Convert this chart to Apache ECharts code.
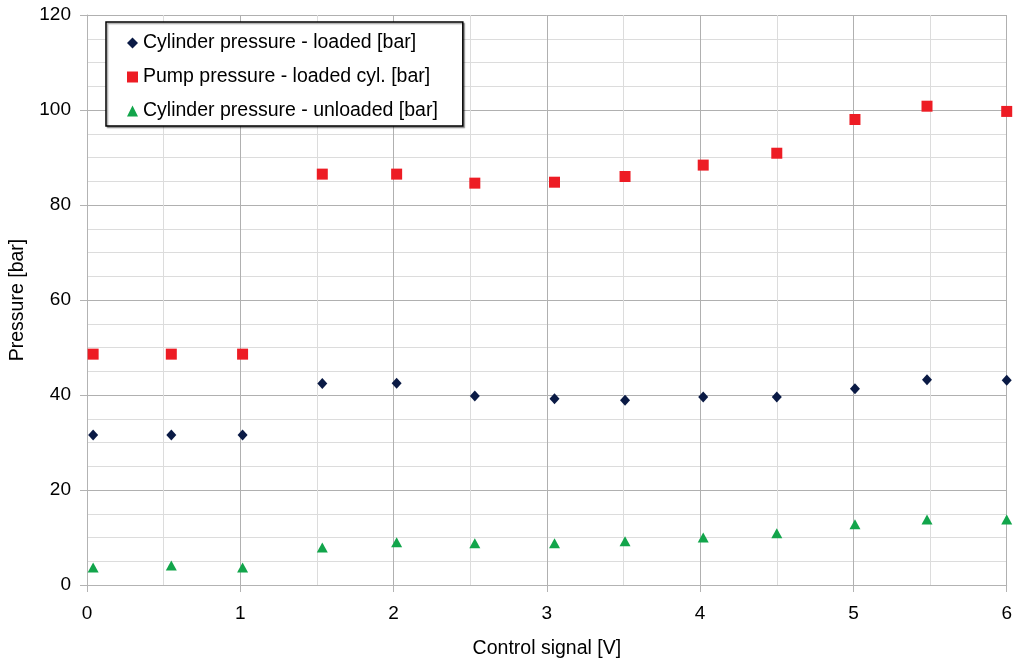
<!DOCTYPE html>
<html><head><meta charset="utf-8">
<script src="https://cdn.jsdelivr.net/npm/echarts@6/dist/echarts.min.js"></script>
<style>html,body{margin:0;padding:0;background:#fff}#c{width:1015px;height:664px}</style>
</head><body><div id="c"></div>
<script>
const controlSignal = [0.04, 0.55, 1.015, 1.535, 2.02, 2.53, 3.05, 3.51, 4.02, 4.50, 5.01, 5.48, 6.0];
const cylLoaded   = [31.6, 31.6, 31.6, 42.4, 42.5, 39.8, 39.2, 38.9, 39.6, 39.6, 41.3, 43.2, 43.1];
const pumpLoaded  = [48.6, 48.6, 48.6, 86.5, 86.5, 84.6, 84.8, 86.0, 88.4, 90.9, 98.0, 100.8, 99.7];
const cylUnloaded = [3.7, 4.1, 3.7, 7.9, 9.0, 8.8, 8.8, 9.2, 10.0, 10.9, 12.8, 13.8, 13.8];
const seriesNames = ['Cylinder pressure - loaded [bar]', 'Pump pressure - loaded cyl. [bar]', 'Cylinder pressure - unloaded [bar]'];
const pair = (ys) => controlSignal.map((x, i) => [x, ys[i]]);

const font = 'Liberation Sans, Arial, sans-serif';
const navy = '#0a1a45', red = '#ed1c24', green = '#12a54b';
const chart = echarts.init(document.getElementById('c'), null, {renderer: 'canvas'});
chart.setOption({
  animation: false,
  backgroundColor: '#fff',
  grid: {left: 86, right: 7, top: 15, bottom: 79, containLabel: false},
  legend: {
    orient: 'vertical', left: 106, top: 22,
    padding: [11, 25, 5, 21],
    itemGap: 14,
    itemWidth: 11, itemHeight: 11,
    backgroundColor: '#fff',
    borderColor: '#000', borderWidth: 1.5,
    shadowColor: 'rgba(0,0,0,0.35)', shadowOffsetX: 1.5, shadowOffsetY: 1.5, shadowBlur: 1,
    textStyle: {fontFamily: font, fontSize: 19.5, lineHeight: 20, color: '#000'},
    data: [
      {name: seriesNames[0], icon: 'diamond', itemStyle: {color: navy}},
      {name: seriesNames[1], icon: 'rect', itemStyle: {color: red}},
      {name: seriesNames[2], icon: 'triangle', itemStyle: {color: green}}
    ]
  },
  xAxis: {
    type: 'value', min: 0, max: 6, interval: 1,
    name: 'Control signal [V]', nameLocation: 'middle', nameGap: 54,
    nameTextStyle: {fontFamily: font, fontSize: 19.5, color: '#000'},
    axisLine: {show: true, lineStyle: {color: '#b3b3b3', width: 1}},
    axisTick: {show: true, length: 7, lineStyle: {color: '#b3b3b3'}},
    axisLabel: {fontFamily: font, fontSize: 19, color: '#000', margin: 19},
    splitLine: {show: true, lineStyle: {color: '#b0b0b0', width: 1}},
    minorTick: {show: false, splitNumber: 2},
    minorSplitLine: {show: true, lineStyle: {color: '#dcdcdc', width: 1}}
  },
  yAxis: {
    type: 'value', min: 0, max: 120, interval: 20,
    name: 'Pressure [bar]', nameLocation: 'middle', nameGap: 59, nameRotate: 90,
    nameTextStyle: {fontFamily: font, fontSize: 19.5, color: '#000'},
    axisLine: {show: true, lineStyle: {color: '#b3b3b3', width: 1}},
    axisTick: {show: true, length: 7, lineStyle: {color: '#b3b3b3'}},
    axisLabel: {fontFamily: font, fontSize: 19, color: '#000', margin: 16},
    splitLine: {show: true, lineStyle: {color: '#b0b0b0', width: 1}},
    minorTick: {show: false, splitNumber: 4},
    minorSplitLine: {show: true, lineStyle: {color: '#dcdcdc', width: 1}}
  },
  series: [
    {name: seriesNames[0], type: 'scatter', symbol: 'diamond', symbolSize: [10, 11], itemStyle: {color: navy, opacity: 1}, data: pair(cylLoaded), z: 3},
    {name: seriesNames[1], type: 'scatter', symbol: 'rect', symbolSize: 11, itemStyle: {color: red, opacity: 1}, data: pair(pumpLoaded), z: 3},
    {name: seriesNames[2], type: 'scatter', symbol: 'triangle', symbolSize: [11, 10], itemStyle: {color: green, opacity: 1}, data: pair(cylUnloaded), z: 3}
  ]
});
</script></body></html>
